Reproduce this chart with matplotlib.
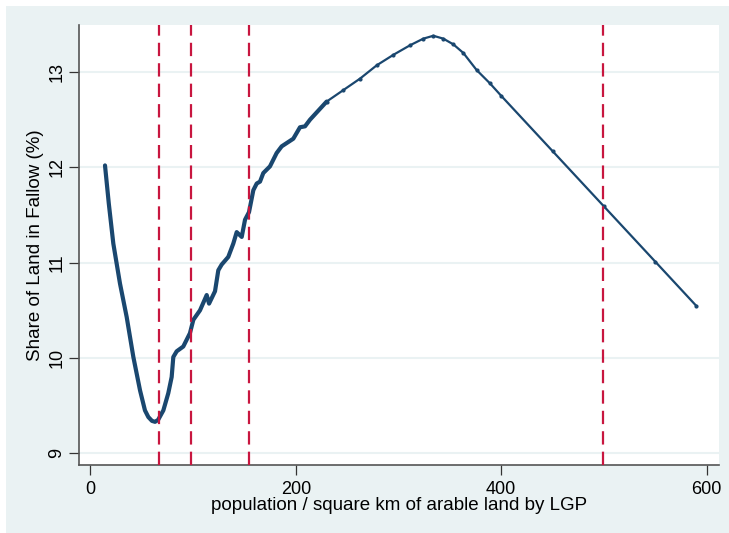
import matplotlib
matplotlib.use("Agg")
import matplotlib.pyplot as plt
from matplotlib.patches import Rectangle

# ---- data ----
pop_density = [14.3, 18.0, 22.4, 28.9, 35.4, 41.9, 48.4, 53.2, 56.5, 60.0, 63.0, 66.0,
               71.1, 75.9, 79.2, 80.8, 84.1, 90.5, 97.0, 100.3, 106.8, 113.3, 115.6,
               121.4, 124.6, 127.9, 134.3, 139.2, 142.5, 147.4, 150.6, 154.5, 158.7,
               162.0, 165.2, 168.4, 174.9, 181.4, 186.3, 197.6, 204.1, 209.0, 213.9,
               230.1, 246.3, 262.5, 278.8, 295.0, 311.2, 324.2, 333.9, 343.6, 353.4,
               363.1, 376.1, 389.1, 400.0, 450.0, 500.0, 550.0, 589.6]
fallow_share = [12.02, 11.62, 11.20, 10.78, 10.43, 10.01, 9.66, 9.45, 9.38, 9.34, 9.33, 9.35,
                9.45, 9.63, 9.80, 10.01, 10.07, 10.12, 10.26, 10.40, 10.50, 10.66, 10.57,
                10.70, 10.92, 10.98, 11.06, 11.20, 11.32, 11.27, 11.45, 11.53, 11.76,
                11.83, 11.85, 11.94, 12.01, 12.15, 12.22, 12.30, 12.42, 12.43, 12.50,
                12.69, 12.81, 12.93, 13.07, 13.18, 13.28, 13.35, 13.38, 13.35, 13.29,
                13.20, 13.02, 12.88, 12.75, 12.17, 11.59, 11.01, 10.55]
thresholds = [67, 98, 154, 499]
x_ticks = [0, 200, 400, 600]
y_ticks = [9, 10, 11, 12, 13]
x_label = "population / square km of arable land by LGP"
y_label = "Share of Land in Fallow (%)"

# ---- style ----
BG = "#eaf2f3"
NAVY = "#1a476f"
RED = "#c8163f"
plt.rcParams["font.family"] = ["Liberation Sans", "DejaVu Sans"]

fig = plt.figure(figsize=(7.29, 5.33), dpi=100, facecolor="white")
fig.patches.append(Rectangle((6 / 729, 0), 1 - 6 / 729, 1 - 6 / 533,
                             transform=fig.transFigure, facecolor=BG,
                             edgecolor="none", zorder=-10))
ax = fig.add_axes([78.7 / 729, 1 - 465 / 533, (719 - 78.7) / 729, (465 - 25) / 533])
ax.set_facecolor("white")

ax.set_xlim(-11.3, 612)
ax.set_ylim(8.877, 13.493)

for v in y_ticks:
    ax.axhline(v, color=BG, lw=1.5, zorder=0)

split = 44  # denser, thicker part of the curve on the left
ax.plot(pop_density[:split], fallow_share[:split], color=NAVY, lw=3.0,
        solid_capstyle="round", solid_joinstyle="round", zorder=3)
ax.plot(pop_density[split - 1:], fallow_share[split - 1:], color=NAVY, lw=1.6,
        marker="o", ms=2.0, zorder=3)

for t in thresholds:
    ax.axvline(t, color=RED, lw=1.6, dashes=(6, 3.2), zorder=4)

ax.set_xticks(x_ticks)
ax.set_yticks(y_ticks)
ax.tick_params(axis="both", length=7.5, width=0.9, color="#333333",
               labelsize=13, labelcolor="black")
ax.tick_params(axis="y", pad=2)
ax.tick_params(axis="x", pad=4)
for lab in ax.get_yticklabels():
    lab.set_rotation(90)
    lab.set_va("center")

for s in ["top", "right"]:
    ax.spines[s].set_visible(False)
for s in ["left", "bottom"]:
    ax.spines[s].set_color("#555555")
    ax.spines[s].set_linewidth(1.2)

ax.set_xlabel(x_label, fontsize=13.5, labelpad=-1)
ax.set_ylabel(y_label, fontsize=13.5, labelpad=3)

fig.savefig("out.png", dpi=100, facecolor=fig.get_facecolor())
